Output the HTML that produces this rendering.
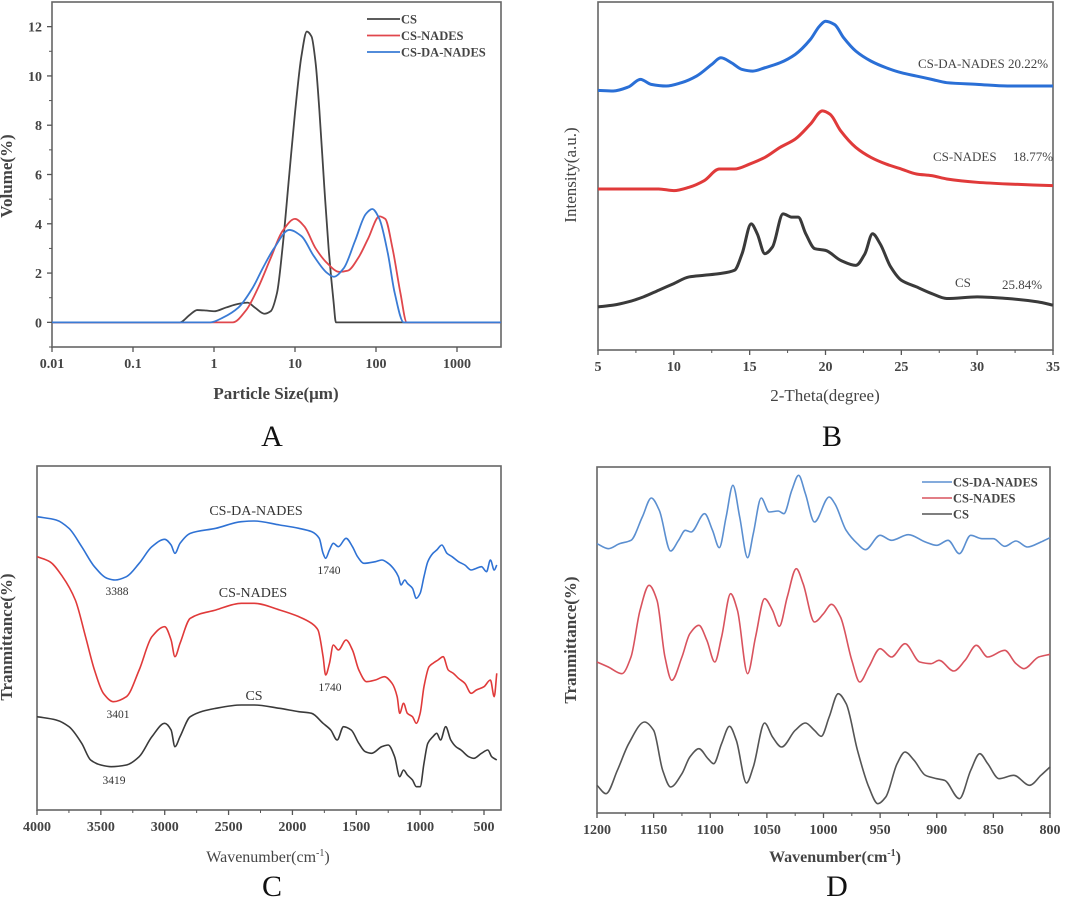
<!DOCTYPE html>
<html><head><meta charset="utf-8">
<style>
html,body{margin:0;padding:0;background:#fff;}
svg{display:block;font-family:"Liberation Serif",serif;}
</style></head>
<body>
<svg id="fig" width="1080" height="898" viewBox="0 0 1080 898" xmlns="http://www.w3.org/2000/svg">
<g id="pA"></g>
<g id="pB"></g>
<g id="pC"></g>
<g id="pD"></g>
</svg>
<script>
// ---------- Panel A data ----------
const aTickLabels = ["0.01","0.1","1","10","100","1000"];
const aYTicks = [0,2,4,6,8,10,12];
const aCS_x = [0.01,0.38,0.5,0.62,0.8,1.0,1.4,2.0,2.6,3.2,4.2,5.0,6.0,7.0,8.5,10,12,14,16,18,20,23,26,30,32,3500];
const aCS_y = [0,0,0.3,0.5,0.48,0.45,0.6,0.75,0.8,0.6,0.35,0.45,1.2,3.0,6.0,8.5,10.8,11.8,11.6,10.5,8.6,5.5,3.0,0.8,0,0];
const aNADES_x = [0.01,1.0,1.7,2.5,3.5,5,7,10,13,18,25,35,45,60,80,110,130,160,200,240,3500];
const aNADES_y = [0,0,0,0.5,1.4,2.6,3.7,4.2,3.9,3.0,2.4,2.05,2.1,2.6,3.4,4.3,4.2,3.0,1.2,0,0];
const aDA_x = [0.01,0.9,1.3,2,3,4,5.5,8.5,12,17,25,30,40,55,75,90,110,140,170,220,3500];
const aDA_y = [0,0,0.2,0.6,1.4,2.2,3.0,3.75,3.5,2.7,2.0,1.85,2.2,3.3,4.4,4.6,4.2,2.8,1.2,0,0];

// ---------- Panel B data ----------
const bTicks = [5,10,15,20,25,30,35];
const bDA_x = [5,6,7,7.8,8.5,9.5,10.5,11.5,12.5,13.1,13.8,14.5,15.2,16,17,18,19,19.6,20,20.6,21.2,22,23,24,25,26,27,28,30,32,35];
const bDA_y = [78.2,78.0,79.2,81.5,80.0,79.5,80.5,82.5,86.0,88.0,86.5,84.5,84.0,85.0,86.5,89.0,93.5,97.5,99.0,98.0,94.0,90.0,87.0,85.0,83.5,82.5,81.5,80.5,80.0,79.5,79.5];
const bNADES_x = [5,7,9,10,11,12,13,14,15,16,17,18,19,19.8,20.3,21,22,23,24,25,26,27,28,30,32,35];
const bNADES_y = [48.5,48.5,48.5,48.0,49.0,51.0,54.5,54.5,56.0,58.0,61.0,63.5,68.0,72.0,71.0,66.0,61.0,58.0,56.0,54.5,53.0,52.5,51.5,50.5,50.0,49.5];
const bCS_x = [5,6,7,8,9,10,11,12,13,14,14.5,15.1,15.5,16,16.5,17.2,17.8,18.2,18.7,19.3,20,21,22,22.6,23.1,23.6,24.3,25,26,27,28,30,32,34,35];
const bCS_y = [13.0,13.5,14.5,16.0,18.0,20.0,22.0,22.5,23.0,24.0,29.0,38.0,35.0,29.0,31.0,41.0,40.0,40.0,35.0,30.5,30.0,27.0,25.5,29.0,35.0,32.0,25.0,21.0,19.0,17.0,15.5,16.0,15.5,14.5,13.5];

// ---------- Panel C data ----------
const cTicks = [4000,3500,3000,2500,2000,1500,1000,500];
const cDA_x = [4000,3850,3750,3650,3550,3450,3388,3300,3200,3100,3000,2950,2920,2880,2800,2600,2400,2300,2100,1950,1850,1790,1760,1740,1710,1680,1640,1580,1530,1490,1440,1350,1300,1250,1200,1170,1150,1120,1100,1060,1030,1000,970,940,900,870,830,790,750,700,650,600,560,520,480,450,420,400];
const cDA_y = [88.0,87.0,84.5,79.0,73.0,69.5,69.0,70.0,74.0,79.0,81.2,79.5,77.0,80.0,83.0,84.5,86.5,86.7,85.5,84.5,83.5,81.5,77.0,75.5,78.0,80.0,79.0,81.5,79.0,76.0,74.0,74.5,75.0,74.0,72.0,70.0,67.5,69.0,68.0,66.5,63.5,65.0,70.0,74.5,77.0,78.0,79.5,77.0,76.0,74.5,73.5,72.0,72.5,73.0,71.5,75.0,72.0,73.5];
const cNADES_x = [4000,3900,3800,3700,3620,3550,3480,3401,3300,3200,3100,3000,2950,2920,2880,2800,2600,2400,2300,2100,1950,1850,1800,1760,1740,1710,1680,1640,1580,1530,1480,1420,1350,1280,1220,1180,1160,1130,1100,1060,1030,1000,970,930,900,860,820,780,740,700,650,600,560,500,450,420,400];
const cNADES_y = [76.0,74.5,70.0,63.0,52.0,42.0,35.0,32.5,34.0,42.0,52.0,55.0,51.0,46.0,50.0,57.5,60.0,62.0,62.0,60.0,58.0,56.0,54.0,46.0,40.5,44.0,49.5,48.0,51.0,48.0,42.0,38.5,39.0,40.0,38.0,34.0,29.0,32.0,29.0,28.0,26.0,29.0,37.0,43.0,44.0,45.0,46.0,42.0,41.0,39.5,38.0,35.0,36.0,37.0,39.0,34.0,41.0];
const cCS_x = [4000,3850,3750,3650,3580,3500,3419,3300,3200,3100,3000,2950,2920,2880,2800,2600,2400,2300,2100,1950,1850,1760,1700,1650,1600,1540,1480,1430,1380,1300,1250,1200,1160,1130,1100,1060,1030,1000,970,940,900,870,840,800,760,720,680,620,580,520,470,440,400];
const cCS_y = [28.0,27.0,25.0,20.0,15.0,13.5,13.0,13.5,16.0,22.0,26.0,24.0,19.0,22.0,28.0,30.5,31.5,31.5,30.5,29.5,29.0,26.0,24.0,21.0,25.0,24.0,20.0,17.5,17.0,19.0,19.5,16.0,10.0,12.0,10.5,9.0,7.0,7.0,14.0,20.0,22.0,23.0,21.0,25.0,21.0,19.0,18.0,16.0,15.5,17.0,18.0,16.0,15.0];

// ---------- Panel D data ----------
const dTicks = [1200,1150,1100,1050,1000,950,900,850,800];
const dDA_x = [1200,1190,1180,1170,1160,1152,1145,1135,1128,1122,1117,1105,1098,1092,1086,1080,1074,1067,1062,1055,1048,1040,1035,1028,1022,1016,1008,995,990,980,970,963,950,940,925,910,900,890,880,870,860,850,840,830,820,808,800];
const dDA_y = [80.8,79.3,80.8,81.8,88.8,94.5,90.8,78.6,81.8,84.8,84.3,89.8,84.8,79.6,88.8,98.3,88.8,76.6,83.8,94.5,90.3,90.6,89.8,96.8,101.3,95.8,87.3,94.8,92.8,84.8,80.8,79.0,83.3,81.8,83.5,81.3,80.3,81.8,77.8,83.3,82.3,82.3,80.0,81.6,79.8,81.3,82.6];
const dNADES_x = [1200,1190,1178,1170,1162,1154,1147,1140,1134,1125,1118,1110,1103,1096,1090,1082,1076,1067,1060,1052,1045,1039,1032,1024,1018,1008,1000,993,985,975,968,960,950,940,928,915,905,898,885,875,865,855,840,830,823,810,800];
const dNADES_y = [45.3,43.8,41.8,46.8,60.8,68.3,63.8,46.8,39.8,46.8,53.8,56.3,51.8,45.3,52.8,65.8,60.8,41.8,52.8,64.3,60.8,56.0,64.8,73.3,68.8,57.3,59.8,62.6,58.8,45.8,39.3,43.8,49.3,46.8,50.8,45.3,44.8,45.8,42.6,45.8,50.3,46.8,48.8,44.8,43.3,46.8,47.6];
const dCS_x = [1200,1192,1182,1172,1158,1150,1142,1135,1125,1118,1110,1102,1097,1090,1083,1077,1068,1062,1052,1045,1037,1025,1016,1008,1002,995,987,980,970,960,952,945,935,928,920,910,900,893,880,870,862,855,845,832,818,808,800];
const dCS_y = [8.3,5.8,12.8,20.8,27.3,24.8,12.8,7.8,11.8,16.8,19.3,16.3,14.8,20.8,26.0,21.8,9.0,13.8,27.0,22.8,19.8,24.8,27.0,24.8,23.0,28.8,35.8,32.8,18.8,7.8,2.8,4.8,14.8,18.3,15.8,11.3,10.3,9.8,4.3,12.8,17.8,14.8,10.3,11.3,8.3,11.3,13.8];

const NS="http://www.w3.org/2000/svg";
function mk(parent,tag,attrs,text){
  const e=document.createElementNS(NS,tag);
  for(const k in attrs) e.setAttribute(k,attrs[k]);
  if(text!==undefined) e.textContent=text;
  parent.appendChild(e); return e;
}
function linScale(d0,d1,r0,r1){return v=>r0+(v-d0)/(d1-d0)*(r1-r0);}
// monotone cubic (Fritsch-Carlson) in pixel space, x increasing
function smoothPath(pts){
  const n=pts.length, dx=[], m=[], t=new Array(n);
  for(let i=0;i<n-1;i++){dx[i]=pts[i+1][0]-pts[i][0]; m[i]=(pts[i+1][1]-pts[i][1])/dx[i];}
  t[0]=m[0]; t[n-1]=m[n-2];
  for(let i=1;i<n-1;i++){
    if(m[i-1]*m[i]<=0) t[i]=0;
    else{const w1=2*dx[i]+dx[i-1],w2=dx[i]+2*dx[i-1]; t[i]=(w1+w2)/(w1/m[i-1]+w2/m[i]);}
  }
  let d="M"+pts[0][0].toFixed(2)+","+pts[0][1].toFixed(2);
  for(let i=0;i<n-1;i++){
    const h=dx[i]/3;
    d+=" C"+(pts[i][0]+h).toFixed(2)+","+(pts[i][1]+t[i]*h).toFixed(2)+" "+(pts[i+1][0]-h).toFixed(2)+","+(pts[i+1][1]-t[i+1]*h).toFixed(2)+" "+pts[i+1][0].toFixed(2)+","+pts[i+1][1].toFixed(2);
  }
  return d;
}
function series(g,xs,ys,sx,sy,color,w,name){
  const pts=xs.map((x,i)=>[sx(x),sy(ys[i])]);
  const p=mk(g,"path",{d:smoothPath(pts),fill:"none",stroke:color,"stroke-width":w,"stroke-linejoin":"round"});
  
  
  return p;
}
function frame(g,L,T,R,B){
  const f=mk(g,"rect",{x:L,y:T,width:R-L,height:B-T,fill:"none",stroke:"#666","stroke-width":1.6});
  
  
}
function txt(g,x,y,s,size,anchor,name,extra){
  const a={x:x,y:y,"font-size":size,fill:"#333","text-anchor":anchor||"middle"};
  if(extra) for(const k in extra) a[k]=extra[k];
  const t=mk(g,"text",a,s);
  
  
  return t;
}
function xTicks(g,vals,labels,sx,B,minorVals,name){
  vals.forEach((v,i)=>{
    mk(g,"line",{x1:sx(v),x2:sx(v),y1:B,y2:B+5,stroke:"#555","stroke-width":1.3});
    txt(g,sx(v),B+21,labels[i],14,"middle",name,{"font-weight":"bold",fill:"#444"});
  });
  minorVals.forEach(v=>mk(g,"line",{x1:sx(v),x2:sx(v),y1:B,y2:B+3,stroke:"#555","stroke-width":1}));
}

// ===== Panel A =====
(function(){
  const g=document.getElementById("pA");
  const L=52,R=501,T=2,B=347;
  const sx=v=>L+(Math.log10(v)+2)*81;
  const sy=linScale(-1,13,B,T);
  frame(g,L,T,R,B);
  const xv=[0.01,0.1,1,10,100,1000];
  xTicks(g,xv,aTickLabels,sx,B,[],"x-tick-label");
  aYTicks.forEach(v=>{
    mk(g,"line",{x1:L-5,x2:L,y1:sy(v),y2:sy(v),stroke:"#555","stroke-width":1.3});
    txt(g,L-10,sy(v)+5,String(v),14,"end","y-tick-label",{"font-weight":"bold",fill:"#444"});
  });
  [-1,1,3,5,7,9,11].forEach(v=>mk(g,"line",{x1:L-3,x2:L,y1:sy(v),y2:sy(v),stroke:"#555","stroke-width":1}));
  const cl=mk(g,"clipPath",{id:"clipA"});mk(cl,"rect",{x:L,y:T,width:R-L,height:B-T});
  const sg=mk(g,"g",{"clip-path":"url(#clipA)"});
  series(sg,aCS_x,aCS_y,sx,sy,"#444",1.8,"cs-size-line");
  series(sg,aNADES_x,aNADES_y,sx,sy,"#e0474c",1.8,"cs-nades-size-line");
  series(sg,aDA_x,aDA_y,sx,sy,"#3a7bd5",1.8,"cs-da-nades-size-line");
  const leg=[["CS","#444"],["CS-NADES","#e0474c"],["CS-DA-NADES","#3a7bd5"]];
  leg.forEach((l,i)=>{
    const y=19+i*16.5;
    mk(g,"line",{x1:367,x2:400,y1:y,y2:y,stroke:l[1],"stroke-width":1.8});
    txt(g,401,y+4.5,l[0],12.5,"start","legend-entry",{"font-weight":"bold",fill:"#444"});
  });
  txt(g,276,399,"Particle Size(μm)",17,"middle","x-axis-title",{"font-weight":"bold",fill:"#444"});
  txt(g,12,176,"Volume(%)",17,"middle","y-axis-title",{"font-weight":"bold",fill:"#444",transform:"rotate(-90 12 176)"});
  txt(g,272,446,"A",30,"middle","panel-label-a",{fill:"#111"});
})();

// ===== Panel B =====
(function(){
  const g=document.getElementById("pB");
  const L=598,R=1053,T=2,B=350;
  const sx=linScale(5,35,L,R), sy=linScale(0,104.8,B,T);
  frame(g,L,T,R,B);
  const minors=[];for(let v=7.5;v<35;v+=5)minors.push(v);
  xTicks(g,bTicks,bTicks.map(String),sx,B,minors,"x-tick-label");
  series(g,bDA_x,bDA_y,sx,sy,"#2a6fd6",3,"cs-da-nades-xrd-line");
  series(g,bNADES_x,bNADES_y,sx,sy,"#e03a3a",3,"cs-nades-xrd-line");
  series(g,bCS_x,bCS_y,sx,sy,"#3a3a3a",3,"cs-xrd-line");
  txt(g,918,68,"CS-DA-NADES",13,"start","cs-da-nades-label",{fill:"#444"});
  txt(g,1008,68,"20.22%",13,"start","cs-da-nades-crystallinity",{fill:"#444"});
  txt(g,933,161,"CS-NADES",13,"start","cs-nades-label",{fill:"#444"});
  txt(g,1013,161,"18.77%",13,"start","cs-nades-crystallinity",{fill:"#444"});
  txt(g,955,287,"CS",13,"start","cs-label",{fill:"#444"});
  txt(g,1002,289,"25.84%",13,"start","cs-crystallinity",{fill:"#444"});
  txt(g,825,401,"2-Theta(degree)",17,"middle","x-axis-title",{fill:"#444"});
  txt(g,576,175,"Intensity(a.u.)",17,"middle","y-axis-title",{fill:"#444",transform:"rotate(-90 576 175)"});
  txt(g,832,446,"B",30,"middle","panel-label-b",{fill:"#111"});
})();

// ===== Panel C =====
(function(){
  const g=document.getElementById("pC");
  const L=37,R=501,T=466,B=810;
  const sx=linScale(4000,500,L,484), sy=linScale(0,103.2,B,T);
  frame(g,L,T,R,B);
  const minors=[];for(let v=3750;v>=750;v-=500)minors.push(v);
  xTicks(g,cTicks,cTicks.map(String),sx,B,minors,"x-tick-label");
  const cl=mk(g,"clipPath",{id:"clipC"});mk(cl,"rect",{x:L,y:T,width:R-L,height:B-T});
  const sg=mk(g,"g",{"clip-path":"url(#clipC)"});
  series(sg,cDA_x,cDA_y,sx,sy,"#2f72d4",1.6,"cs-da-nades-ftir-line");
  series(sg,cNADES_x,cNADES_y,sx,sy,"#e03a3a",1.6,"cs-nades-ftir-line");
  series(sg,cCS_x,cCS_y,sx,sy,"#3a3a3a",1.6,"cs-ftir-line");
  txt(g,256,515,"CS-DA-NADES",14,"middle","cs-da-nades-label",{fill:"#333"});
  txt(g,117,595,"3388",11.5,"middle","peak-3388",{fill:"#333"});
  txt(g,329,574,"1740",11.5,"middle","peak-1740-da",{fill:"#333"});
  txt(g,253,597,"CS-NADES",14,"middle","cs-nades-label",{fill:"#333"});
  txt(g,118,718,"3401",11.5,"middle","peak-3401",{fill:"#333"});
  txt(g,330,691,"1740",11.5,"middle","peak-1740-nades",{fill:"#333"});
  txt(g,254,700,"CS",14,"middle","cs-label",{fill:"#333"});
  txt(g,114,784,"3419",11.5,"middle","peak-3419",{fill:"#333"});
  const xt=txt(g,268,862,"Wavenumber(cm",16,"middle","x-axis-title",{fill:"#444"});
  mk(xt,"tspan",{"font-size":10,dy:-6},"-1");
  mk(xt,"tspan",{dy:6},")");
  txt(g,12,637,"Tranmittance(%)",17,"middle","y-axis-title",{"font-weight":"bold",fill:"#444",transform:"rotate(-90 12 637)"});
  txt(g,272,896,"C",30,"middle","panel-label-c",{fill:"#111"});
})();

// ===== Panel D =====
(function(){
  const g=document.getElementById("pD");
  const L=597,R=1050,T=467,B=813;
  const sx=linScale(1200,800,L,R), sy=linScale(0,103.8,B,T);
  frame(g,L,T,R,B);
  const minors=[];for(let v=1175;v>800;v-=50)minors.push(v);
  xTicks(g,dTicks,dTicks.map(String),sx,B,minors,"x-tick-label");
  series(g,dDA_x,dDA_y,sx,sy,"#5b8fd0",1.6,"cs-da-nades-ftir-detail-line");
  series(g,dNADES_x,dNADES_y,sx,sy,"#d9535e",1.6,"cs-nades-ftir-detail-line");
  series(g,dCS_x,dCS_y,sx,sy,"#555",1.6,"cs-ftir-detail-line");
  const leg=[["CS-DA-NADES","#5b8fd0"],["CS-NADES","#d9535e"],["CS","#555"]];
  leg.forEach((l,i)=>{
    const y=482+i*16;
    mk(g,"line",{x1:922,x2:952,y1:y,y2:y,stroke:l[1],"stroke-width":1.6});
    txt(g,953,y+4.5,l[0],12.5,"start","legend-entry",{"font-weight":"bold",fill:"#444"});
  });
  const xt=txt(g,835,862,"Wavenumber(cm",16,"middle","x-axis-title",{fill:"#444","font-weight":"bold"});
  mk(xt,"tspan",{"font-size":10,dy:-6},"-1");
  mk(xt,"tspan",{dy:6},")");
  txt(g,576,640,"Tranmittance(%)",17,"middle","y-axis-title",{"font-weight":"bold",fill:"#444",transform:"rotate(-90 576 640)"});
  txt(g,837,896,"D",30,"middle","panel-label-d",{fill:"#111"});
})();
</script>
</body></html>
